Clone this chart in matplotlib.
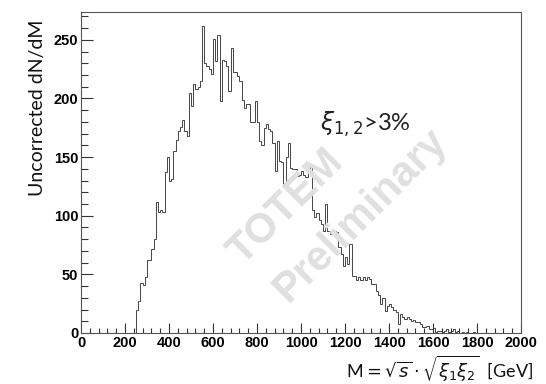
import matplotlib
matplotlib.use('Agg')
import matplotlib.pyplot as plt
import numpy as np
from matplotlib.ticker import MultipleLocator

# Histogram: 10 GeV bins, first filled bin starts at 250 GeV
bin_width = 10
first_bin = 250
counts = [
    20, 27, 43, 41, 48, 62, 62, 72, 80, 112,          # 250-340
    103, 105, 103, 137, 150, 130, 131, 155, 165, 172,  # 350-440
    176, 182, 172, 168, 205, 194, 212, 208, 210, 215,  # 450-540
    262, 230, 228, 225, 221, 251, 232, 254, 198, 233,  # 550-640
    232, 228, 206, 243, 223, 223, 219, 215, 199, 192,  # 650-740
    195, 195, 180, 180, 198, 180, 164, 160, 175, 178,  # 750-840
    174, 172, 162, 138, 164, 147, 146, 126, 150, 162,  # 850-940
    141, 140, 140, 134, 135, 138, 135, 133, 140, 142,  # 950-1040
    105, 99, 102, 96, 93, 87, 110, 87, 84, 87,         # 1050-1140
    87, 86, 73, 67, 57, 65, 59, 76, 49, 49,            # 1150-1240
    45, 48, 45, 48, 45, 48, 46, 42, 42, 36,            # 1250-1340
    32, 25, 30, 19, 23, 25, 22, 20, 18, 8,             # 1350-1440
    16, 14, 12, 14, 12, 10, 11, 9, 9, 8,               # 1450-1540
    5, 5, 6, 3, 3, 4, 1, 2, 2, 1,                      # 1550-1640
    2, 3, 1, 2, 3, 1, 2, 0, 1, 0,                      # 1650-1740
    1, 0, 0, 1, 0,                                     # 1750-1790
]
x_min, x_max = 0, 2000
y_max = 274

x_ticks = [0, 200, 400, 600, 800, 1000, 1200, 1400, 1600, 1800, 2000]
y_ticks = [0, 50, 100, 150, 200, 250]

edges = np.arange(x_min, x_max + bin_width, bin_width)
full = np.zeros(len(edges) - 1)
i0 = (first_bin - x_min) // bin_width
full[i0:i0 + len(counts)] = counts

fig = plt.figure(figsize=(5.46, 3.84), dpi=100)
ax = fig.add_axes([81/546, 1 - 333/384, (521-81)/546, (333-11.7)/384])

ax.stairs(full, edges, color='#454545', linewidth=0.7)

ax.set_xlim(x_min, x_max)
ax.set_ylim(0, y_max)
ax.set_xticks(x_ticks)
ax.set_yticks(y_ticks)
ax.xaxis.set_minor_locator(MultipleLocator(40))
ax.yaxis.set_minor_locator(MultipleLocator(10))
ax.tick_params(which='both', direction='in', top=False, right=False,
               color='#333333', width=0.8)
ax.tick_params(axis='x', which='major', length=7, pad=2)
ax.tick_params(axis='x', which='minor', length=3.5)
ax.tick_params(axis='y', which='major', length=8.5, pad=2)
ax.tick_params(axis='y', which='minor', length=5)
for lab in ax.get_xticklabels() + ax.get_yticklabels():
    lab.set_fontfamily('Liberation Sans')
    lab.set_fontweight('bold')
    lab.set_fontsize(10.5)
for s in ax.spines.values():
    s.set_color('#555555')
    s.set_linewidth(0.8)

# watermark
wm = dict(color='#e0e0e0', fontsize=30, fontweight='bold', family='Liberation Sans',
          ha='center', va='center', rotation=45, zorder=0)
fig.text(286/546, 1 - 207/384, 'TOTEM', **wm)
fig.text(360/546, 1 - 216/384, 'Preliminary', **wm)

fig.text(38/546, 1 - 108/384, 'Uncorrected dN/dM', rotation=90, ha='center', va='center',
         fontsize=14, family='Lato', color='#111111')
fig.text(320/546, 1 - 124/384, r'$\xi_{1,2}$>3%', ha='left', va='center',
         fontsize=17, family='Lato', color='#222222')
fig.text(533/546, 1 - 369/384, r'M$=\sqrt{s}\cdot\sqrt{\xi_1\xi_2}$  [GeV]', ha='right', va='center',
         fontsize=13, family='Lato', color='#111111')

fig.savefig('out.png', dpi=100)
